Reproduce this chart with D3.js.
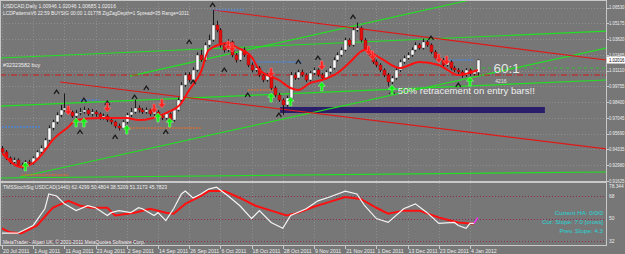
<!DOCTYPE html>
<html>
<head>
<meta charset="utf-8">
<script src="https://cdn.jsdelivr.net/npm/d3@7"></script>
<style>
  body { margin: 0; background: #777; }
  svg { display: block; font-family: "Liberation Sans", Arial, sans-serif; }
</style>
</head>
<body>
<div id="chart"></div>
<script>
// ===== DATA =====
// daily bars USDCAD, [open, high, low, close]
const candles = [
  [0.9440,0.9462,0.9395,0.9411],[0.9411,0.9428,0.9341,0.9359],[0.9359,0.9372,0.9306,0.9325],[0.9325,0.9365,0.9310,0.9342],
  [0.9342,0.9356,0.9281,0.9299],[0.9299,0.9318,0.9268,0.9290],[0.9290,0.9341,0.9279,0.9325],[0.9325,0.9344,0.9298,0.9316],
  [0.9316,0.9374,0.9302,0.9359],[0.9359,0.9425,0.9347,0.9411],[0.9411,0.9468,0.9398,0.9445],[0.9445,0.9531,0.9430,0.9514],
  [0.9514,0.9640,0.9502,0.9617],[0.9617,0.9688,0.9598,0.9669],[0.9669,0.9752,0.9650,0.9729],[0.9729,0.9815,0.9710,0.9772],
  [0.9772,0.9915,0.9755,0.9789],[0.9789,0.9810,0.9738,0.9755],[0.9755,0.9768,0.9702,0.9720],[0.9720,0.9772,0.9705,0.9746],
  [0.9746,0.9790,0.9728,0.9755],[0.9755,0.9801,0.9741,0.9772],[0.9772,0.9789,0.9722,0.9738],[0.9738,0.9780,0.9718,0.9755],
  [0.9755,0.9770,0.9715,0.9738],[0.9738,0.9752,0.9688,0.9703],[0.9703,0.9741,0.9690,0.9720],[0.9720,0.9735,0.9668,0.9686],
  [0.9686,0.9702,0.9648,0.9669],[0.9669,0.9681,0.9615,0.9634],[0.9634,0.9655,0.9596,0.9617],[0.9617,0.9685,0.9605,0.9669],
  [0.9669,0.9748,0.9655,0.9729],[0.9729,0.9790,0.9712,0.9755],[0.9755,0.9860,0.9741,0.9789],[0.9789,0.9812,0.9750,0.9772],
  [0.9772,0.9790,0.9738,0.9755],[0.9755,0.9795,0.9740,0.9772],[0.9772,0.9786,0.9720,0.9738],[0.9738,0.9778,0.9722,0.9755],
  [0.9755,0.9770,0.9702,0.9720],[0.9720,0.9738,0.9685,0.9703],[0.9703,0.9752,0.9690,0.9738],[0.9738,0.9750,0.9665,0.9686],
  [0.9686,0.9790,0.9672,0.9772],[0.9772,0.9880,0.9760,0.9858],[0.9858,1.0010,0.9845,0.9987],[0.9987,1.0095,0.9970,1.0073],
  [1.0073,1.0098,1.0010,1.0030],[1.0030,1.0140,1.0018,1.0116],[1.0116,1.0268,1.0102,1.0245],[1.0245,1.0290,1.0185,1.0202],
  [1.0202,1.0352,1.0190,1.0331],[1.0331,1.0420,1.0315,1.0374],[1.0374,1.0632,1.0360,1.0503],[1.0503,1.0540,1.0440,1.0460],
  [1.0460,1.0478,1.0310,1.0331],[1.0331,1.0350,1.0265,1.0288],[1.0288,1.0380,1.0270,1.0357],[1.0357,1.0370,1.0225,1.0245],
  [1.0245,1.0262,1.0180,1.0202],[1.0202,1.0305,1.0190,1.0288],[1.0288,1.0310,1.0228,1.0245],[1.0245,1.0260,1.0140,1.0159],
  [1.0159,1.0180,1.0095,1.0116],[1.0116,1.0158,1.0100,1.0133],[1.0133,1.0150,1.0055,1.0073],[1.0073,1.0090,1.0010,1.0030],
  [1.0030,1.0092,1.0015,1.0073],[1.0073,1.0085,0.9945,0.9961],[0.9961,0.9980,0.9880,0.9901],[0.9901,0.9920,0.9840,0.9858],
  [0.9858,0.9872,0.9730,0.9815],[0.9815,0.9895,0.9800,0.9875],[0.9875,1.0100,0.9860,1.0073],[1.0073,1.0095,1.0030,1.0047],
  [1.0047,1.0118,1.0035,1.0099],[1.0099,1.0120,1.0058,1.0073],[1.0073,1.0088,1.0012,1.0030],[1.0030,1.0108,1.0018,1.0090],
  [1.0090,1.0138,1.0075,1.0116],[1.0116,1.0130,1.0058,1.0073],[1.0073,1.0090,1.0030,1.0047],[1.0047,1.0115,1.0035,1.0099],
  [1.0099,1.0150,1.0085,1.0133],[1.0133,1.0225,1.0120,1.0202],[1.0202,1.0268,1.0188,1.0245],[1.0245,1.0310,1.0230,1.0288],
  [1.0288,1.0395,1.0275,1.0374],[1.0374,1.0390,1.0315,1.0331],[1.0331,1.0480,1.0318,1.0460],[1.0460,1.0524,1.0445,1.0477],
  [1.0477,1.0490,1.0355,1.0374],[1.0374,1.0392,1.0270,1.0288],[1.0288,1.0305,1.0228,1.0245],[1.0245,1.0262,1.0168,1.0185],
  [1.0185,1.0205,1.0140,1.0159],[1.0159,1.0175,1.0098,1.0116],[1.0116,1.0130,1.0055,1.0073],[1.0073,1.0090,0.9975,1.0013],
  [1.0013,1.0065,0.9995,1.0047],[1.0047,1.0135,1.0032,1.0116],[1.0116,1.0205,1.0100,1.0185],[1.0185,1.0240,1.0170,1.0219],
  [1.0219,1.0268,1.0205,1.0245],[1.0245,1.0310,1.0230,1.0288],[1.0288,1.0355,1.0275,1.0331],[1.0331,1.0348,1.0290,1.0305],
  [1.0305,1.0385,1.0292,1.0357],[1.0357,1.0372,1.0315,1.0331],[1.0331,1.0345,1.0255,1.0271],[1.0271,1.0288,1.0202,1.0219],
  [1.0219,1.0240,1.0185,1.0202],[1.0202,1.0218,1.0140,1.0159],[1.0159,1.0205,1.0145,1.0185],[1.0185,1.0200,1.0115,1.0133],
  [1.0133,1.0150,1.0098,1.0116],[1.0116,1.0132,1.0080,1.0099],[1.0099,1.0115,1.0050,1.0073],[1.0073,1.0132,1.0058,1.0116],
  [1.0116,1.0130,1.0065,1.0082],[1.0082,1.0115,1.0068,1.0099],[1.0095,1.0205,1.0069,1.0202]
];

// red moving average, [bar, price]
const maPoints = [
  [0,0.9402],[5,0.9282],[8,0.9316],[10.5,0.9402],[13,0.9514],[17,0.9626],[19,0.9686],[25,0.9703],
  [32,0.9703],[35,0.9686],[42,0.9746],[46,0.9832],[48,0.9944],[51,1.0099],[53,1.0288],[58,1.0348],
  [60,1.0314],[64,1.0228],[66,1.0116],[71,1.0030],[74,0.9961],[76,0.9944],[79,1.0004],[82,1.0030],
  [86,1.0090],[89,1.0176],[93,1.0288],[97,1.0219],[102,1.0133],[107,1.0185],[112,1.0159],[117,1.0073],[122,1.0116]
];

// TMSStochSig lines, [bar, value]
const stochWhite = [
  [0,38.3],[4,38.3],[8,44.5],[11,57.8],[12,69.6],[14,68.0],[16,61.7],[19,56.3],[22,60.2],[24,58.6],
  [27,52.4],[28,54.7],[30,56.3],[33,54.7],[35,58.6],[36,57.8],[39,52.4],[40,54.7],[42,48.4],[44,57.8],
  [46,69.6],[47,71.9],[49,66.4],[51,69.6],[53,73.5],[55,75.0],[58,68.0],[61,60.2],[64,50.0],[66,56.3],
  [69,46.9],[72,42.2],[74,52.4],[78,57.8],[81,64.1],[84,67.2],[88,71.9],[91,69.6],[93,60.2],[96,50.0],
  [99,46.9],[103,57.8],[106,61.7],[109,54.7],[112,46.1],[116,46.9],[117,44.5],[119,42.2],[120,46.1],[121,46.1]
];
const stochWhiteLast = [[121,46.1],[122,50.8]];
const stochRed = [
  [0,42.2],[2,39.0],[5,38.3],[9,44.5],[13,58.6],[17,64.1],[20,60.2],[23,58.6],[27,58.6],[29,52.4],
  [34,54.7],[38,57.8],[42,54.7],[44,53.9],[47,61.7],[51,68.0],[53,71.9],[57,71.9],[61,66.4],[65,60.2],
  [69,56.3],[73,52.4],[76,54.7],[80,59.4],[84,63.3],[88,67.2],[92,65.6],[96,58.6],[99,53.9],[103,56.3],
  [107,56.3],[112,50.8],[115,48.4],[117,46.9],[120,46.1],[121,46.1]
];
const stochLevels = [68, 50, 32];
const stochLabels = ["78.344", "68", "50", "32"];
const stochLabelValues = [78.344, 68, 50, 32];

// trend lines [bar1, price1, bar2, price2]
const greenLines = [
  [-0.5,1.0219,154.9,1.0451],
  [-0.5,0.9806,154.9,1.0030],
  [32.8,1.0064,120,1.0718],
  [4.6,0.9196,154.9,1.0305],
  [-0.5,0.9187,154.9,0.9239]
];
const greenDashed = [[120,1.0133,154.9,1.0133]];
const redLines = [
  [54.1,1.0632,154.9,1.0202],
  [14.9,1.0013,154.9,0.9437]
];
const redDashDot = [[-0.5,1.0073,154.9,1.0073]];
// short horizontal levels [bar1, bar2, price]
const blueLevels = [[54,62,1.0632],[64,77,1.0185],[20,25,0.9858],[0,10,0.9626],[114,121,1.0202]];
const orangeLevels = [[5,17,0.9213],[32,51,0.9617],[63,70,0.9944]];
// entry zone box [bar1, bar2, priceTop, priceBottom]
const zoneBox = [71.3, 139.2, 0.9798, 0.9746];

// markers [bar, price]
const fractals = [
  [14,0.9927],[21,0.9858],[27,0.9832],[34,0.9884],[37,0.9961],[20,0.9583],[29,0.9540],[42,0.9583],
  [49,1.0013],[54,1.0675],[48,1.0357],[57,1.0116],[63,0.9901],[71,0.9729],[76,1.0185],[81,1.0219],
  [90,1.0572],[100,0.9927],[110,1.0391],[117,0.9987]
];
const buyArrows = [
  [6,0.9282],[19,0.9660],[21,0.9660],[32,0.9600],[40,0.9703],[43,0.9660],[69,0.9875],[74,0.9841],
  [82,0.9970],[100,0.9944],[120,1.0013]
];
const sellArrows = [
  [17,0.9772],[27,0.9798],[39,0.9789],[41,0.9832],[58,1.0331],[59,1.0314],[69,1.0099],[82,1.0159],
  [94,1.0288],[95,1.0245],[112,1.0219],[114,1.0202]
];

const priceTicks = [1.06530,1.05175,1.03820,1.02465,1.01110,0.99755,0.98400,0.97045,0.95690,0.94335,0.92980,0.91625];
const currentPrice = 1.02016;
const dateTickBars = [0,8,16,24,32,40,48,56,64,72,80,88,96,104,112,120];
const dateLabels = ["20 Jul 2011","1 Aug 2011","11 Aug 2011","23 Aug 2011","2 Sep 2011","14 Sep 2011",
  "26 Sep 2011","6 Oct 2011","18 Oct 2011","28 Oct 2011","9 Nov 2011","21 Nov 2011","1 Dec 2011",
  "13 Dec 2011","23 Dec 2011","4 Jan 2012"];

const headerLines = [
  "USDCAD,Daily  1.00946 1.02046 1.00685 1.02016",
  "LCDPatternsV6  22:59  BUYSIG  00:00  1.01778  ZigZagDepth=1  Spread=35  Range=1011"
];
const stochHeader = "TMSStochSig USDCAD(1440) 62.4299 50.4804 38.5209 51.3173 45.7823";
const infoLines = ["Current HA: 0/0/0", "Cur. Slope: 7.0 [cross]", "Prev. Slope: 4.3"];

// ===== LAYOUT =====
const W = 625, H = 254;
const AX = 606;            // right price axis
const MAIN_BOTTOM = 181;
const SUB_TOP = 183, SUB_BOTTOM = 245;

const svg = d3.select("#chart").append("svg").attr("width", W).attr("height", H);
svg.append("rect").attr("width", W).attr("height", H).attr("fill", "#777");

const x = d3.scaleLinear().domain([0, 148]).range([2, 579.2]);
const y = d3.scaleLinear().domain([0.91614, 1.0718]).range([MAIN_BOTTOM, 0]);
const ys = d3.scaleLinear().domain([28.9, 78.344]).range([SUB_BOTTOM, SUB_TOP]);

svg.append("clipPath").attr("id", "mainClip").append("rect")
  .attr("x", 0).attr("y", 0).attr("width", AX).attr("height", MAIN_BOTTOM);
svg.append("clipPath").attr("id", "subClip").append("rect")
  .attr("x", 0).attr("y", SUB_TOP).attr("width", AX).attr("height", SUB_BOTTOM - SUB_TOP);

// grid
const grid = svg.append("g").attr("stroke", "#8e8e8e").attr("stroke-dasharray", "1,2").attr("stroke-width", 1);
grid.selectAll(".hg").data(priceTicks).enter().append("line")
  .attr("x1", 0).attr("x2", AX).attr("y1", (d) => Math.round(y(d)) + 0.5).attr("y2", (d) => Math.round(y(d)) + 0.5);
grid.selectAll(".vg").data(dateTickBars).enter().append("line")
  .attr("x1", (d) => Math.round(x(d)) + 0.5).attr("x2", (d) => Math.round(x(d)) + 0.5)
  .attr("y1", 0).attr("y2", SUB_BOTTOM);

const main = svg.append("g").attr("clip-path", "url(#mainClip)");

// entry zone
main.append("rect")
  .attr("x", x(zoneBox[0])).attr("y", y(zoneBox[2]))
  .attr("width", x(zoneBox[1]) - x(zoneBox[0])).attr("height", y(zoneBox[3]) - y(zoneBox[2]))
  .attr("fill", "#2a1d6a");

function drawLines(data, color, width, dash) {
  main.append("g").selectAll("line").data(data).enter().append("line")
    .attr("x1", (d) => x(d[0])).attr("y1", (d) => y(d[1]))
    .attr("x2", (d) => x(d[2])).attr("y2", (d) => y(d[3]))
    .attr("stroke", color).attr("stroke-width", width)
    .attr("stroke-dasharray", dash || null);
}
drawLines(greenLines, "#22e022", 1.2);
drawLines(greenDashed, "#30c030", 1, "3,3");
drawLines(redLines, "#e01818", 1.2);
drawLines(redDashDot, "#d01818", 1, "6,2,1,2");

function drawLevels(data, color) {
  main.append("g").selectAll("line").data(data).enter().append("line")
    .attr("x1", (d) => x(d[0])).attr("x2", (d) => x(d[1]))
    .attr("y1", (d) => y(d[2])).attr("y2", (d) => y(d[2]))
    .attr("stroke", color).attr("stroke-width", 1).attr("stroke-dasharray", "2,1");
}
drawLevels(blueLevels, "#3a8cff");
drawLevels(orangeLevels, "#ff6a1a");

// candles
const cg = main.append("g");
cg.selectAll(".wick").data(candles).enter().append("line")
  .attr("x1", (d, i) => Math.round(x(i)) + 0.5).attr("x2", (d, i) => Math.round(x(i)) + 0.5)
  .attr("y1", (d) => y(d[1])).attr("y2", (d) => y(d[2]))
  .attr("stroke", "#1a1a1a").attr("stroke-width", 1);
cg.selectAll(".body").data(candles).enter().append("rect")
  .attr("x", (d, i) => Math.round(x(i)) - 1)
  .attr("y", (d) => y(Math.max(d[0], d[3])))
  .attr("width", 3)
  .attr("height", (d) => Math.max(1, Math.abs(y(d[0]) - y(d[3]))))
  .attr("fill", (d) => (d[3] >= d[0] ? "#ffffff" : "#e01010"))
  .attr("stroke", (d) => (d[3] >= d[0] ? "#333" : "#900"))
  .attr("stroke-width", 0.4);

// moving average
main.append("path").datum(maPoints)
  .attr("d", d3.line().x((d) => x(d[0])).y((d) => y(d[1])).curve(d3.curveMonotoneX))
  .attr("fill", "none").attr("stroke", "#ff1010").attr("stroke-width", 2);

// markers
main.append("g").selectAll("path").data(fractals).enter().append("path")
  .attr("transform", (d) => `translate(${x(d[0])},${y(d[1])})`)
  .attr("d", "M-2.5,1.8 L0,-1.8 L2.5,1.8")
  .attr("fill", "none").attr("stroke", "#1a1a1a").attr("stroke-width", 1.3);

main.append("g").selectAll("path").data(buyArrows).enter().append("path")
  .attr("transform", (d) => `translate(${x(d[0])},${y(d[1])})`)
  .attr("d", "M0,-5 L3.6,-0.8 L1.2,-0.8 L1.2,4 L-1.2,4 L-1.2,-0.8 L-3.6,-0.8 Z")
  .attr("fill", "#10f010").attr("stroke", "#9cff9c").attr("stroke-width", 0.5);

main.append("g").selectAll("path").data(sellArrows).enter().append("path")
  .attr("transform", (d) => `translate(${x(d[0])},${y(d[1])})`)
  .attr("d", "M0,5 L3.6,0.8 L1.2,0.8 L1.2,-4 L-1.2,-4 L-1.2,0.8 L-3.6,0.8 Z")
  .attr("fill", "#ff2020").attr("stroke", "#ff8080").attr("stroke-width", 0.5);

// chart texts
const headerWidths = [113, 186];
svg.append("g").selectAll("text").data(headerLines).enter().append("text")
  .attr("x", 3).attr("y", (d, i) => 8 + i * 7)
  .attr("font-size", 5.4).attr("fill", "#f0f0f0")
  .attr("textLength", (d, i) => headerWidths[i]).attr("lengthAdjust", "spacingAndGlyphs")
  .text((d) => d);
svg.append("text").attr("x", 3).attr("y", 67).attr("font-size", 5.4).attr("fill", "#f0f0f0").text("#32323582 buy");
svg.append("text").attr("x", x(126)).attr("y", 73).attr("font-size", 13.5).attr("fill", "#e4e4e4").text("60:1");
svg.append("text").attr("x", x(126.5)).attr("y", 83).attr("font-size", 5).attr("fill", "#e4e4e4").text("4216");
svg.append("text").attr("x", x(101.5)).attr("y", 93.5).attr("font-size", 9.6).attr("fill", "#eeeeee")
  .text("50% retracement on entry bars!!");

// sub window
const sub = svg.append("g").attr("clip-path", "url(#subClip)");
sub.append("g").selectAll("line").data(stochLevels).enter().append("line")
  .attr("x1", 0).attr("x2", AX).attr("y1", (d) => Math.round(ys(d)) + 0.5).attr("y2", (d) => Math.round(ys(d)) + 0.5)
  .attr("stroke", "#8a2a55").attr("stroke-dasharray", "1,2");
const sline = d3.line().x((d) => x(d[0])).y((d) => ys(d[1]));
sub.append("path").datum(stochRed).attr("d", sline).attr("fill", "none").attr("stroke", "#ff1010").attr("stroke-width", 2);
sub.append("path").datum(stochWhite).attr("d", sline).attr("fill", "none").attr("stroke", "#f4f4f4").attr("stroke-width", 1.2);
sub.append("path").datum(stochWhiteLast).attr("d", sline).attr("fill", "none").attr("stroke", "#ff30ff").attr("stroke-width", 1.4);

svg.append("text").attr("x", 3).attr("y", 189).attr("font-size", 5.4).attr("fill", "#f0f0f0")
  .attr("textLength", 164).attr("lengthAdjust", "spacingAndGlyphs").text(stochHeader);
svg.append("g").selectAll("text").data(infoLines).enter().append("text")
  .attr("x", 603).attr("y", (d, i) => 215 + i * 9).attr("text-anchor", "end")
  .attr("font-size", 6.2).attr("fill", "#22d8d8").text((d) => d);
svg.append("text").attr("x", 3).attr("y", 243.5).attr("font-size", 5.2).attr("fill", "#f0f0f0")
  .attr("textLength", 142).attr("lengthAdjust", "spacingAndGlyphs")
  .text("MetaTrader - Alpari UK, \u00a9 2001-2011 MetaQuotes Software Corp.");

// frame, separators, axes
const frame = svg.append("g").attr("stroke", "#c8c8c8").attr("fill", "none");
frame.append("rect").attr("x", 0.5).attr("y", 0.5).attr("width", AX).attr("height", SUB_BOTTOM);
frame.append("line").attr("x1", 0).attr("x2", AX + 1).attr("y1", 182).attr("y2", 182).attr("stroke-width", 2);

// price axis
const pa = svg.append("g");
pa.selectAll("line").data(priceTicks).enter().append("line")
  .attr("x1", AX + 1).attr("x2", AX + 3).attr("y1", (d) => Math.round(y(d)) + 0.5).attr("y2", (d) => Math.round(y(d)) + 0.5)
  .attr("stroke", "#c8c8c8");
pa.selectAll("text").data(priceTicks).enter().append("text")
  .attr("x", AX + 3).attr("y", (d) => y(d) + 1.8)
  .attr("font-size", 4.8).attr("fill", "#eeeeee")
  .attr("textLength", 15.5).attr("lengthAdjust", "spacingAndGlyphs")
  .text((d) => d.toFixed(5));
pa.append("rect").attr("x", AX + 1).attr("y", y(currentPrice) - 3.5).attr("width", W - AX).attr("height", 7).attr("fill", "#fff");
pa.append("text").attr("x", AX + 3).attr("y", y(currentPrice) + 1.8).attr("font-size", 4.8).attr("fill", "#000")
  .attr("textLength", 15.5).attr("lengthAdjust", "spacingAndGlyphs")
  .text(currentPrice.toFixed(5));

const sa = svg.append("g");
sa.selectAll("text").data(stochLabelValues).enter().append("text")
  .attr("x", AX + 3).attr("y", (d, i) => (i === 0 ? ys(d) + 4.5 : ys(d) + 1.8))
  .attr("font-size", 4.8).attr("fill", "#eeeeee").text((d, i) => stochLabels[i]);

// time axis
const ta = svg.append("g");
ta.selectAll("line").data(dateTickBars).enter().append("line")
  .attr("x1", (d) => Math.round(x(d)) + 0.5).attr("x2", (d) => Math.round(x(d)) + 0.5)
  .attr("y1", SUB_BOTTOM + 1).attr("y2", SUB_BOTTOM + 4).attr("stroke", "#c8c8c8");
ta.selectAll("text").data(dateTickBars).enter().append("text")
  .attr("x", (d) => x(d) + 1).attr("y", 252.5)
  .attr("font-size", 5.2).attr("fill", "#eeeeee").text((d, i) => dateLabels[i]);
</script>
</body>
</html>
